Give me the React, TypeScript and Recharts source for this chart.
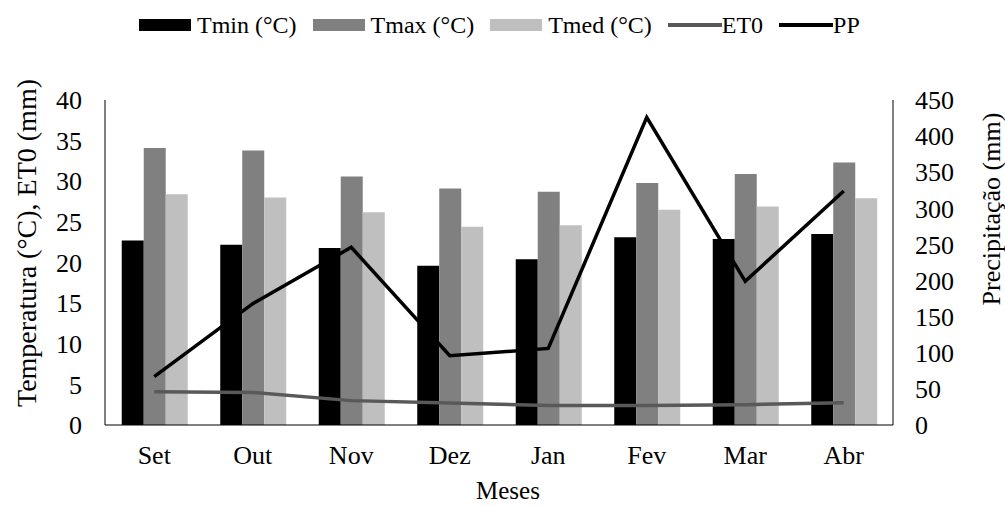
import { ComposedChart, Bar, Line, XAxis, YAxis, Label } from "recharts";

const months = ["Set", "Out", "Nov", "Dez", "Jan", "Fev", "Mar", "Abr"];
const tmin = [22.7, 22.2, 21.8, 19.6, 20.4, 23.1, 22.9, 23.5];
const tmax = [34.1, 33.8, 30.6, 29.1, 28.7, 29.8, 30.9, 32.3];
const tmed = [28.4, 28.0, 26.2, 24.4, 24.6, 26.5, 26.9, 27.9];
const et0 = [4.1, 4.0, 3.0, 2.7, 2.4, 2.4, 2.5, 2.75];
const pp = [67, 168, 246, 96, 106, 426, 199, 324];

const leftTicks = [0, 5, 10, 15, 20, 25, 30, 35, 40];
const rightTicks = [0, 50, 100, 150, 200, 250, 300, 350, 400, 450];

const data = months.map((m, i) => ({
  month: m,
  tmin: tmin[i],
  tmax: tmax[i],
  tmed: tmed[i],
  et0: et0[i],
  pp: pp[i],
}));

const FONT = "Liberation Serif, Times New Roman, serif";
const tickStyle = { fontFamily: FONT, fontSize: 26, fill: "#000" };

const legendItems = [
  { label: "Tmin (°C)", color: "#000000", kind: "bar" },
  { label: "Tmax (°C)", color: "#808080", kind: "bar" },
  { label: "Tmed (°C)", color: "#bfbfbf", kind: "bar" },
  { label: "ET0", color: "#595959", kind: "line" },
  { label: "PP", color: "#000000", kind: "line" },
];

const LeftTitle = ({ viewBox }: any) => {
  const x = viewBox.x + 26;
  const y = 243;
  return (
    <text
      x={x}
      y={y}
      transform={`rotate(-90, ${x}, ${y})`}
      textAnchor="middle"
      dominantBaseline="central"
      fontFamily={FONT}
      fontSize={28}
      fill="#000"
    >
      Temperatura (°C), ET0 (mm)
    </text>
  );
};

const RightTitle = ({ viewBox }: any) => {
  const x = viewBox.x + 98;
  const y = 209;
  return (
    <text
      x={x}
      y={y}
      transform={`rotate(-90, ${x}, ${y})`}
      textAnchor="middle"
      dominantBaseline="central"
      fontFamily={FONT}
      fontSize={26}
      fill="#000"
    >
      Precipitação (mm)
    </text>
  );
};

const BottomTitle = ({ viewBox }: any) => (
  <text
    x={viewBox.x + viewBox.width / 2 + 9}
    y={490}
    textAnchor="middle"
    dominantBaseline="central"
    fontFamily={FONT}
    fontSize={25}
    fill="#000"
  >
    Meses
  </text>
);

const ChartLegend = () => (
  <div
    style={{
      position: "absolute",
      top: 8,
      left: 139,
      display: "flex",
      alignItems: "center",
      fontFamily: FONT,
      fontSize: 24,
      lineHeight: "34px",
      whiteSpace: "nowrap",
    }}
  >
    {legendItems.map((item) => (
      <div key={item.label} style={{ display: "flex", alignItems: "center", marginRight: 16 }}>
        {item.kind === "bar" ? (
          <span style={{ width: 52, height: 12, background: item.color, marginRight: 6 }} />
        ) : (
          <span style={{ width: 54, height: 4, background: item.color }} />
        )}
        <span>{item.label}</span>
      </div>
    ))}
  </div>
);

export default function App() {
  return (
    <div style={{ position: "relative", width: 1005, height: 506, background: "#fff" }}>
      <style>{`body{margin:0}`}</style>
      <ChartLegend />
      <ComposedChart
        width={1005}
        height={506}
        data={data}
        margin={{ top: 100, right: 0, bottom: 0, left: 0 }}
        barCategoryGap="17%"
        barGap={0}
      >
        <XAxis
          dataKey="month"
          height={81}
          tickLine={false}
          tickSize={0}
          tickMargin={21}
          tick={tickStyle}
          axisLine={{ stroke: "#000", strokeWidth: 1 }}
        >
          <Label content={BottomTitle} />
        </XAxis>
        <YAxis
          yAxisId="left"
          width={105}
          domain={[0, 40]}
          ticks={leftTicks}
          interval={0}
          tickLine={false}
          tickSize={0}
          tickMargin={23}
          tick={tickStyle}
          axisLine={{ stroke: "#000", strokeWidth: 1 }}
        >
          <Label content={LeftTitle} />
        </YAxis>
        <YAxis
          yAxisId="right"
          orientation="right"
          width={112}
          domain={[0, 450]}
          ticks={rightTicks}
          interval={0}
          tickLine={false}
          tickSize={0}
          tickMargin={22}
          tick={{ ...tickStyle, textAnchor: "start" }}
          axisLine={{ stroke: "#000", strokeWidth: 1 }}
        >
          <Label content={RightTitle} />
        </YAxis>
        <Bar yAxisId="left" dataKey="tmin" fill="#000000" isAnimationActive={false} />
        <Bar yAxisId="left" dataKey="tmax" fill="#808080" isAnimationActive={false} />
        <Bar yAxisId="left" dataKey="tmed" fill="#bfbfbf" isAnimationActive={false} />
        <Line
          yAxisId="left"
          dataKey="et0"
          stroke="#595959"
          strokeWidth={3.5}
          dot={false}
          isAnimationActive={false}
        />
        <Line
          yAxisId="right"
          dataKey="pp"
          stroke="#000000"
          strokeWidth={3.5}
          dot={false}
          isAnimationActive={false}
        />
      </ComposedChart>
    </div>
  );
}
